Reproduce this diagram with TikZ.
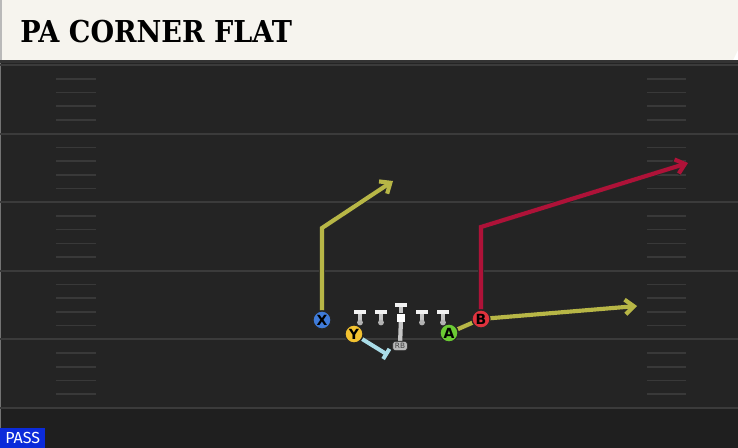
\documentclass[tikz,border=0pt]{standalone}
\usepackage{fontspec}
\usepackage{xcolor}
\usepackage{tikz}
\usetikzlibrary{arrows.meta, positioning, shapes.geometric}
\newfontfamily\titlefont{DejaVu Serif Condensed}
\newfontfamily\labelfont{DejaVu Sans}
\newfontfamily\passfont{Fira Sans}
\definecolor{fieldgray}{HTML}{242424}
\definecolor{fielddark}{HTML}{1F1F1F}
\definecolor{yardline}{HTML}{3B3B3B}
\definecolor{hashgray}{HTML}{393939}
\definecolor{titlecream}{HTML}{F6F4EE}
\definecolor{routeolive}{HTML}{B7B646}
\definecolor{routecrimson}{HTML}{AE1238}
\definecolor{routesky}{HTML}{A9DCE8}
\definecolor{playerblue}{HTML}{3F7BD9}
\definecolor{playeryellow}{HTML}{F3C230}
\definecolor{playergreen}{HTML}{6BCB34}
\definecolor{playerred}{HTML}{E0333E}
\definecolor{passblue}{HTML}{0B2BDA}
\pgfdeclarelayer{field}
\pgfdeclarelayer{routes}
\pgfsetlayers{field,routes,main}

\begin{document}
\begin{tikzpicture}[
    x=0.75pt, y=-0.75pt,
    player/.style={circle, draw=black!85, line width=0.9pt, minimum size=13.5pt, inner sep=0pt, font=\labelfont\bfseries\fontsize{10.5}{11}\selectfont},
    route/.style={line width=3.1pt, line join=miter, preaction={draw=black!85, line width=4.4pt}},
    arrow/.style={-{Straight Barb[length=6.5pt, width=11pt]}},
    block/.style={-{Bar[width=9pt]}, line width=3pt, draw=routesky},
    lineman/.style={fill=gray!10, minimum width=9.5pt, minimum height=3.6pt, inner sep=0pt},
    stem/.style={draw=gray!45, line width=3.2pt},
    handoff/.style={draw=gray!45, line width=3.2pt},
    yard/.style={draw=yardline, line width=1.5pt},
    hash/.style={draw=hashgray, line width=1.2pt}
]
    \useasboundingbox (0,0) rectangle (738,448);

    % field
    \begin{pgfonlayer}{field}
    \fill[fieldgray] (0,60) rectangle (738,408);
    \fill[fielddark] (0,408) rectangle (738,448);
    \fill[black!80] (0,60) rectangle (738,63);
    \draw[black!55, line width=1pt] (0.5,63) -- (0.5,448);
    \foreach \y in {65,133.6,202.2,270.8,339.4,408}
        \draw[yard] (0,\y) -- (738,\y);
    \foreach \y in {65,133.6,202.2,270.8,339.4}
        \foreach \k in {1,...,4} {
            \draw[hash] (56,\y+\k*13.72) -- (96,\y+\k*13.72);
            \draw[hash] (647,\y+\k*13.72) -- (686,\y+\k*13.72);
        }
    \end{pgfonlayer}

    % title bar
    \fill[gray!55] (0,0) rectangle (2,60);
    \fill[titlecream] (2,0) -- (738,0) -- (738,50) -- (733,60) -- (2,60) -- cycle;
    \node[anchor=base west, inner sep=0pt, font=\titlefont\bfseries\fontsize{22.6}{26}\selectfont] (title) at (20,43) {PA CORNER FLAT};

    % players
    \node[player, fill=playerblue] (x) at (322,320) {X};
    \node[player, fill=playeryellow] (y) at (354,334) {Y};
    \node[player, fill=playergreen] (a) at (449,333) {A};
    \node[player, fill=playerred] (b) at (481,319) {B};

    % line
    \foreach \x/\n in {360/lt, 381/lg, 422/rg, 443/rt} {
        \draw[stem] (\x,313) -- (\x,322);
        \fill[gray!60] (\x,322.5) circle (2.2pt);
        \node[lineman] (\n) at (\x,312) {};
    }
    \draw[stem] (401,305) -- (401,313);
    \node[lineman] (c) at (401,305) {};
    \node[fill=white, minimum size=5.5pt, inner sep=0pt] (qb) at (401,318) {};
    \node[fill=gray!55, draw=gray!30!black, line width=0.5pt, rounded corners=2pt, minimum width=11pt, minimum height=7pt, inner sep=0pt, font=\labelfont\fontsize{5.5}{6}\selectfont, text=black!75] (rb) at (400,346) {RB};

    % routes
    \begin{pgfonlayer}{routes}
    \coordinate (xbreak) at (322,228);
    \coordinate (xend) at (393,181);
    \coordinate (bbreak) at (481,227);
    \coordinate (bend) at (688,163);
    \coordinate (aend) at (637,306);
    \coordinate (yend) at (388,355);
    \draw[handoff] (qb) -- (rb);
    \draw[route, arrow, draw=routeolive] (x) -- (xbreak) -- (xend);
    \draw[route, arrow, draw=routecrimson] (b) -- (bbreak) -- (bend);
    \draw[route, arrow, draw=routeolive] (a) -- (b.center) -- (aend);
    \draw[block] (y) -- (yend);
    \end{pgfonlayer}

    % formation tag
    \node[anchor=south west, fill=passblue, text=white, minimum width=33.75pt, minimum height=15pt, inner sep=0pt, font=\passfont\fontsize{12}{13}\selectfont] (pass) at (0,448) {PASS};
\end{tikzpicture}
\end{document}
